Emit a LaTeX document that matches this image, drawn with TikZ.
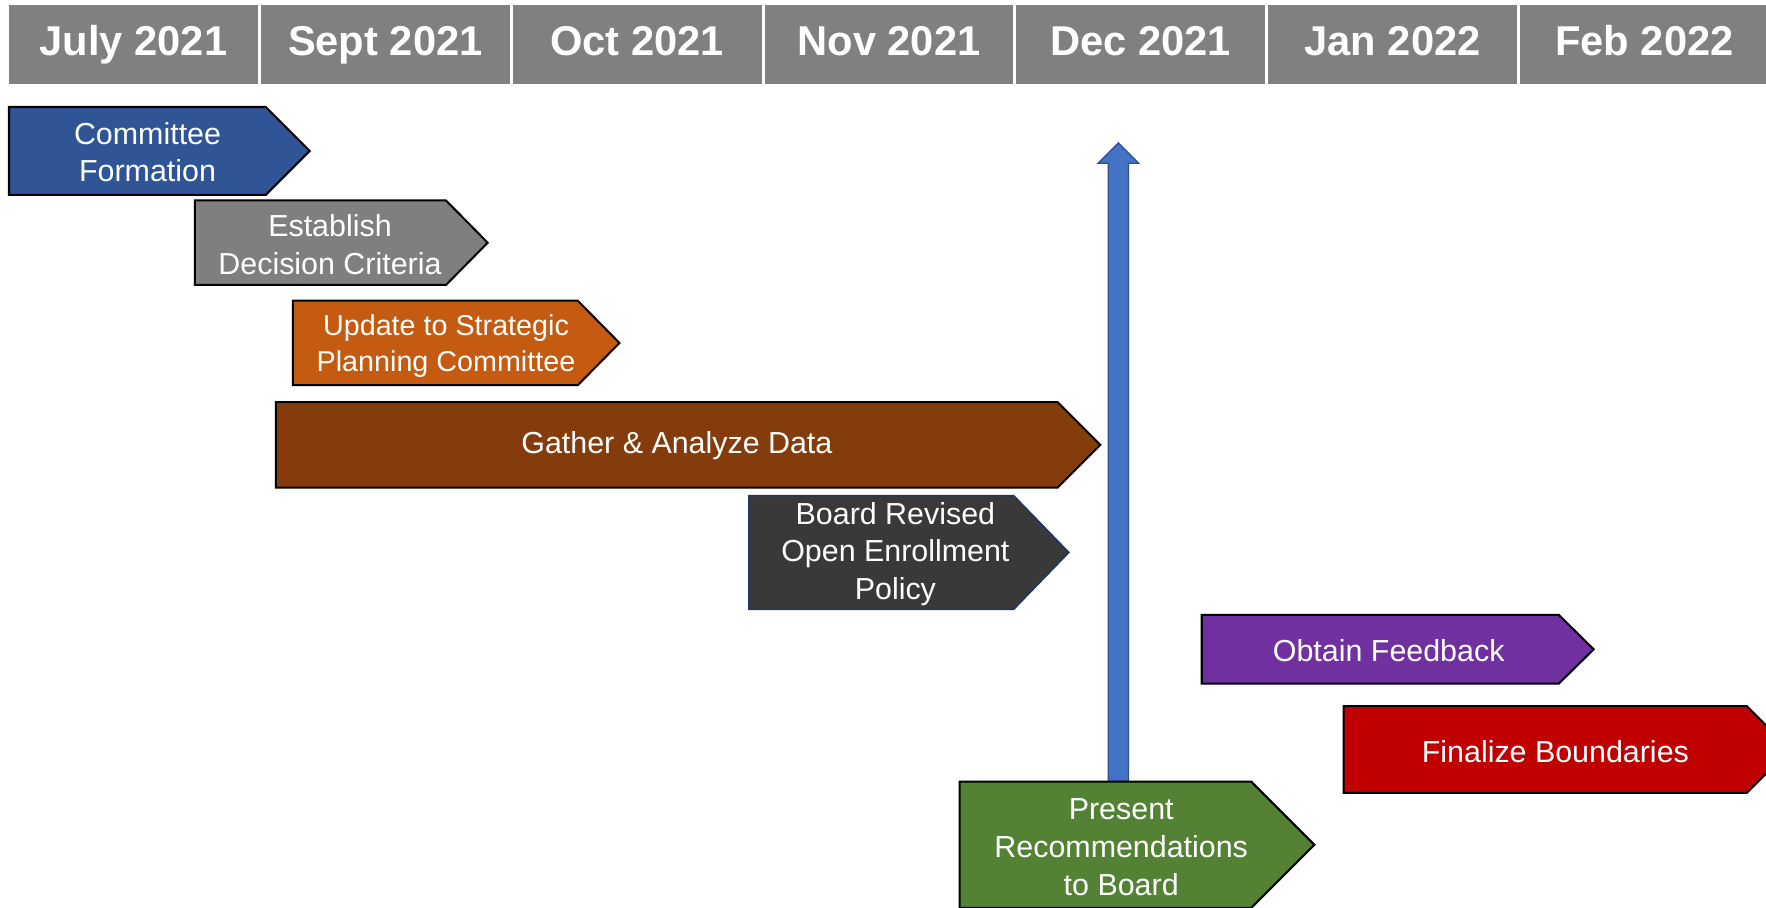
\documentclass[tikz,border=0pt]{standalone}
\usepackage{fontspec}
\setmainfont{Liberation Sans}
\usetikzlibrary{positioning}

\definecolor{headgray}{HTML}{808080}
\definecolor{formblue}{HTML}{2F5597}
\definecolor{critgray}{HTML}{7F7F7F}
\definecolor{stratorange}{HTML}{C55A11}
\definecolor{gatherbrown}{HTML}{843C0C}
\definecolor{boarddark}{HTML}{3A3838}
\definecolor{boardedge}{HTML}{1F3864}
\definecolor{feedpurple}{HTML}{7030A0}
\definecolor{finalred}{HTML}{C00000}
\definecolor{presgreen}{HTML}{548235}
\definecolor{riserblue}{HTML}{4472C4}
\definecolor{riseredge}{HTML}{2F528F}

\begin{document}
\begin{tikzpicture}[x=1pt, y=-1pt,
    month/.style={fill=headgray, text=white, font=\fontsize{37}{44}\selectfont\bfseries, minimum width=221pt, minimum height=71pt, inner sep=0pt, outer sep=0pt, text height=27pt, text depth=8pt},
    phase/.style={draw=black, line width=1.8pt, line join=miter},
    label/.style={text=white, font=\fontsize{27}{33.5}\selectfont, align=center},
    riser/.style={fill=riserblue, draw=riseredge, line width=1.2pt, line join=miter}
]
    \useasboundingbox (0,0) rectangle (1568,806);
    \clip (0,0) rectangle (1568,806);

    % Months
    \node[month] (jul) at (118.5,39.5) {July 2021};
    \node[month, right=2.6pt of jul] (sep) {Sept 2021};
    \node[month, right=2.6pt of sep] (oct) {Oct 2021};
    \node[month, right=2.6pt of oct] (nov) {Nov 2021};
    \node[month, right=2.6pt of nov] (dec) {Dec 2021};
    \node[month, right=2.6pt of dec] (jan) {Jan 2022};
    \node[month, right=2.6pt of jan] (feb) {Feb 2022};

    % Phases
    \filldraw[phase, fill=formblue] (8,95) -- (236,95) -- (275,134) -- (236,173) -- (8,173) -- cycle;
    \node[label] (formation) at (131,135) {Committee\\Formation};

    \filldraw[phase, fill=critgray] (173,178) -- (396,178) -- (433,215.5) -- (396,253) -- (173,253) -- cycle;
    \node[label] (criteria) at (293,217) {Establish\\Decision Criteria};

    \filldraw[phase, fill=stratorange] (260,267) -- (513,267) -- (550,304.5) -- (513,342) -- (260,342) -- cycle;
    \node[label, font=\fontsize{25.5}{32}\selectfont] (strategic) at (396,307) {Update to Strategic\\Planning Committee};

    \filldraw[phase, fill=gatherbrown] (245,357) -- (939,357) -- (977,395) -- (939,433) -- (245,433) -- cycle;
    \node[label] (gather) at (601,396) {Gather \& Analyze Data};

    \filldraw[phase, draw=boardedge, line width=1.4pt, fill=boarddark] (665,440) -- (900,440) -- (949,490.5) -- (900,541) -- (665,541) -- cycle;
    \node[label] (board) at (795,492) {Board Revised\\Open Enrollment\\Policy};

    \filldraw[phase, fill=feedpurple] (1067,546) -- (1384,546) -- (1415,576.5) -- (1384,607) -- (1067,607) -- cycle;
    \node[label] (feedback) at (1233,578) {Obtain Feedback};

    \filldraw[phase, fill=finalred] (1193,627) -- (1551,627) -- (1589.5,665.5) -- (1551,704) -- (1193,704) -- cycle;
    \node[label] (boundaries) at (1381,667) {Finalize Boundaries};

    % Milestone
    \coordinate (riserfoot) at (993,694);
    \coordinate (risertip) at (993,127);
    \draw[riser] ([xshift=-9pt]riserfoot) -- ([xshift=-9pt,yshift=-18pt]risertip) -- ([xshift=-18pt,yshift=-18pt]risertip) -- (risertip) -- ([xshift=18pt,yshift=-18pt]risertip) -- ([xshift=9pt,yshift=-18pt]risertip) -- ([xshift=9pt]riserfoot) -- cycle;

    \filldraw[phase, fill=presgreen] (852,694) -- (1111,694) -- (1167,750) -- (1111,806) -- (852,806) -- cycle;
    \node[label] (present) at (995.5,752) {Present\\Recommendations\\to Board};
\end{tikzpicture}
\end{document}
